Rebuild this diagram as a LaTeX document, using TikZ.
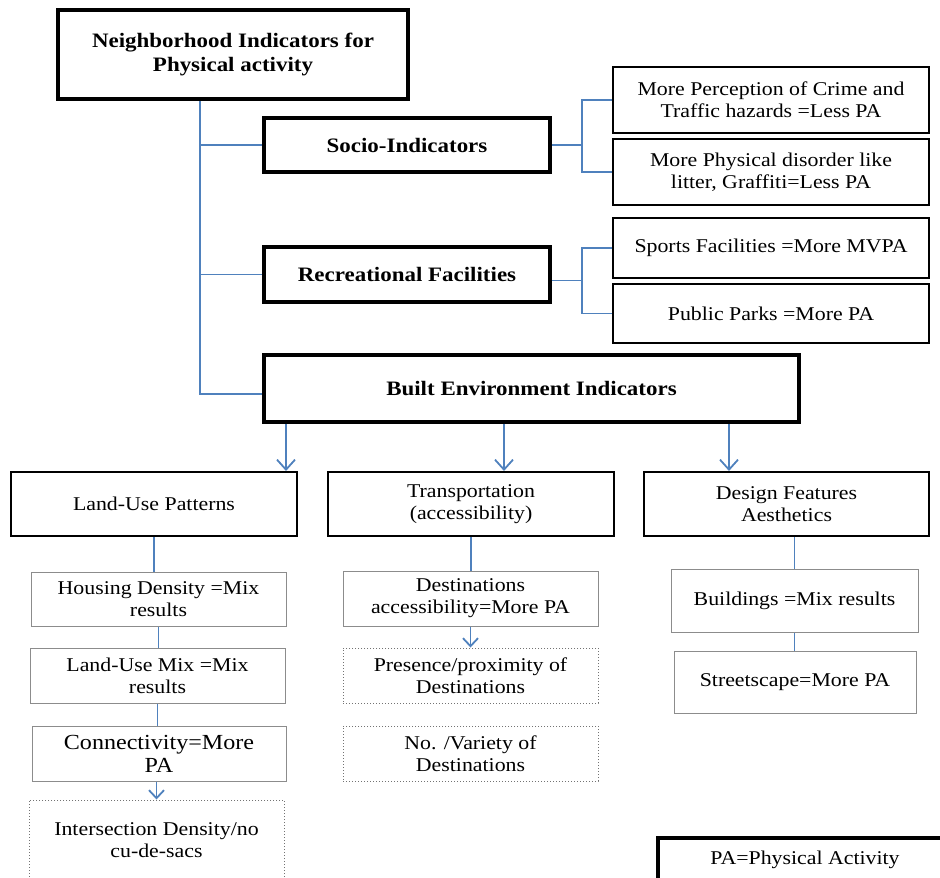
\documentclass[tikz,border=0pt]{standalone}
\usepackage{fontspec}
\setmainfont{Liberation Serif}[FakeStretch=1.12]
\usetikzlibrary{arrows.meta}
\definecolor{lineblue}{HTML}{4F81BD}
\begin{document}
\begin{tikzpicture}[x=1pt,y=-1pt,
  base/.style={rectangle, inner sep=0pt, align=center, font=\fontsize{19.5}{22}\selectfont, fill=white},
  heavybox/.style={base, draw=black, line width=3.5pt, font=\fontsize{20.5}{24}\selectfont\bfseries},
  midbox/.style={base, draw=black, line width=2pt},
  lightbox/.style={base, draw=black!45, line width=1pt},
  dotbox/.style={base, draw=black!55, dotted, line width=1pt},
  conn/.style={draw=lineblue, line width=1.8pt},
  arr/.style={conn, -{Straight Barb[length=10pt,width=18pt]}},
  sarr/.style={conn, -{Straight Barb[length=8pt,width=15pt]}},
]
\useasboundingbox (0,0) rectangle (940,878);

% level 0
\node[heavybox, minimum width=350pt, minimum height=89pt, font=\fontsize{20.5}{24}\selectfont\bfseries] (top) at (233,54.5) {Neighborhood Indicators for\\Physical activity};

% level 1
\node[heavybox, minimum width=286pt, minimum height=54pt] (socio) at (407,145) {Socio-Indicators};
\node[heavybox, minimum width=286pt, minimum height=55pt] (recre) at (407,274.5) {Recreational Facilities};
\node[heavybox, minimum width=535pt, minimum height=67pt] (built) at (531.5,388.5) {Built Environment Indicators};

% right column
\node[midbox, minimum width=316pt, minimum height=66pt] (crime) at (771,100) {More Perception of Crime and\\Traffic hazards =Less PA};
\node[midbox, minimum width=316pt, minimum height=66pt] (disorder) at (771,172) {More Physical disorder like\\litter, Graffiti=Less PA};
\node[midbox, minimum width=316pt, minimum height=60pt] (sports) at (771,248) {Sports Facilities =More MVPA};
\node[midbox, minimum width=316pt, minimum height=59pt] (parks) at (771,313.5) {Public Parks =More PA};

% level 2
\node[midbox, minimum width=286pt, minimum height=64pt] (landuse) at (154,504) {Land-Use Patterns};
\node[midbox, minimum width=286pt, minimum height=64pt] (transp) at (471,504) {Transportation\\(accessibility)};
\node[midbox, minimum width=285pt, minimum height=64pt] (design) at (786.5,504) {Design Features\\Aesthetics};

% land-use column
\node[lightbox, minimum width=255pt, minimum height=54pt] (housing) at (158.5,599) {Housing Density =Mix\\results};
\node[lightbox, minimum width=255pt, minimum height=55pt] (lumix) at (157.5,675.5) {Land-Use Mix =Mix\\results};
\node[lightbox, minimum width=254pt, minimum height=55pt, font=\fontsize{21.5}{23}\selectfont] (connect) at (159,753.5) {Connectivity=More\\PA};
\node[dotbox, minimum width=255pt, minimum height=80pt] (intersect) at (156.5,840) {Intersection Density/no\\cu-de-sacs};

% transportation column
\node[lightbox, minimum width=255pt, minimum height=55pt] (dest) at (470.5,598.5) {Destinations\\accessibility=More PA};
\node[dotbox, minimum width=255pt, minimum height=55pt] (presence) at (470.5,675.5) {Presence/proximity of\\Destinations};
\node[dotbox, minimum width=255pt, minimum height=55pt] (variety) at (470.5,753.5) {No. /Variety of\\Destinations};

% design column
\node[lightbox, minimum width=247pt, minimum height=63pt] (buildings) at (794.5,600.5) {Buildings =Mix results};
\node[lightbox, minimum width=242pt, minimum height=62pt] (street) at (795,682) {Streetscape=More PA};

% legend
\node[heavybox, minimum width=294pt, minimum height=44pt, font=\fontsize{19.5}{22}\selectfont] (legend) at (805,860) {PA=Physical Activity};

% trunk
\coordinate (t) at (200,0);
\draw[conn] (top.south -| t) |- ([yshift=-5.5pt]built.west);
\draw[conn] (socio.west -| t) -- (socio.west);
\draw[conn] (recre.west -| t) -- (recre.west);

% brackets
\coordinate (b) at (582,0);
\draw[conn] (socio.east) -- (socio.east -| b);
\draw[conn] (crime.west) -| (b |- disorder.west) -- (disorder.west);
\draw[conn] ([yshift=-6pt]recre.east) -- ([yshift=-6pt]recre.east -| b);
\draw[conn] (sports.west) -| (b |- parks.west) -- (parks.west);

% arrows from built
\coordinate (a1) at (286,0);
\coordinate (a2) at (504,0);
\coordinate (a3) at (729,0);
\draw[arr] (built.south -| a1) -- (landuse.north -| a1);
\draw[arr] (built.south -| a2) -- (transp.north -| a2);
\draw[arr] (built.south -| a3) -- (design.north -| a3);

% columns
\draw[conn] (landuse.south) -- (landuse.south |- housing.north);
\draw[conn] (housing.south) -- (housing.south |- lumix.north);
\draw[conn] (lumix.south) -- (lumix.south |- connect.north);
\draw[sarr] (connect.south -| intersect.north) -- (intersect.north);

\draw[conn] (transp.south) -- (transp.south |- dest.north);
\draw[sarr] (dest.south) -- (dest.south |- presence.north);

\draw[conn] (design.south -| buildings.north) -- (buildings.north);
\draw[conn] (buildings.south) -- (buildings.south |- street.north);
\end{tikzpicture}
\end{document}
